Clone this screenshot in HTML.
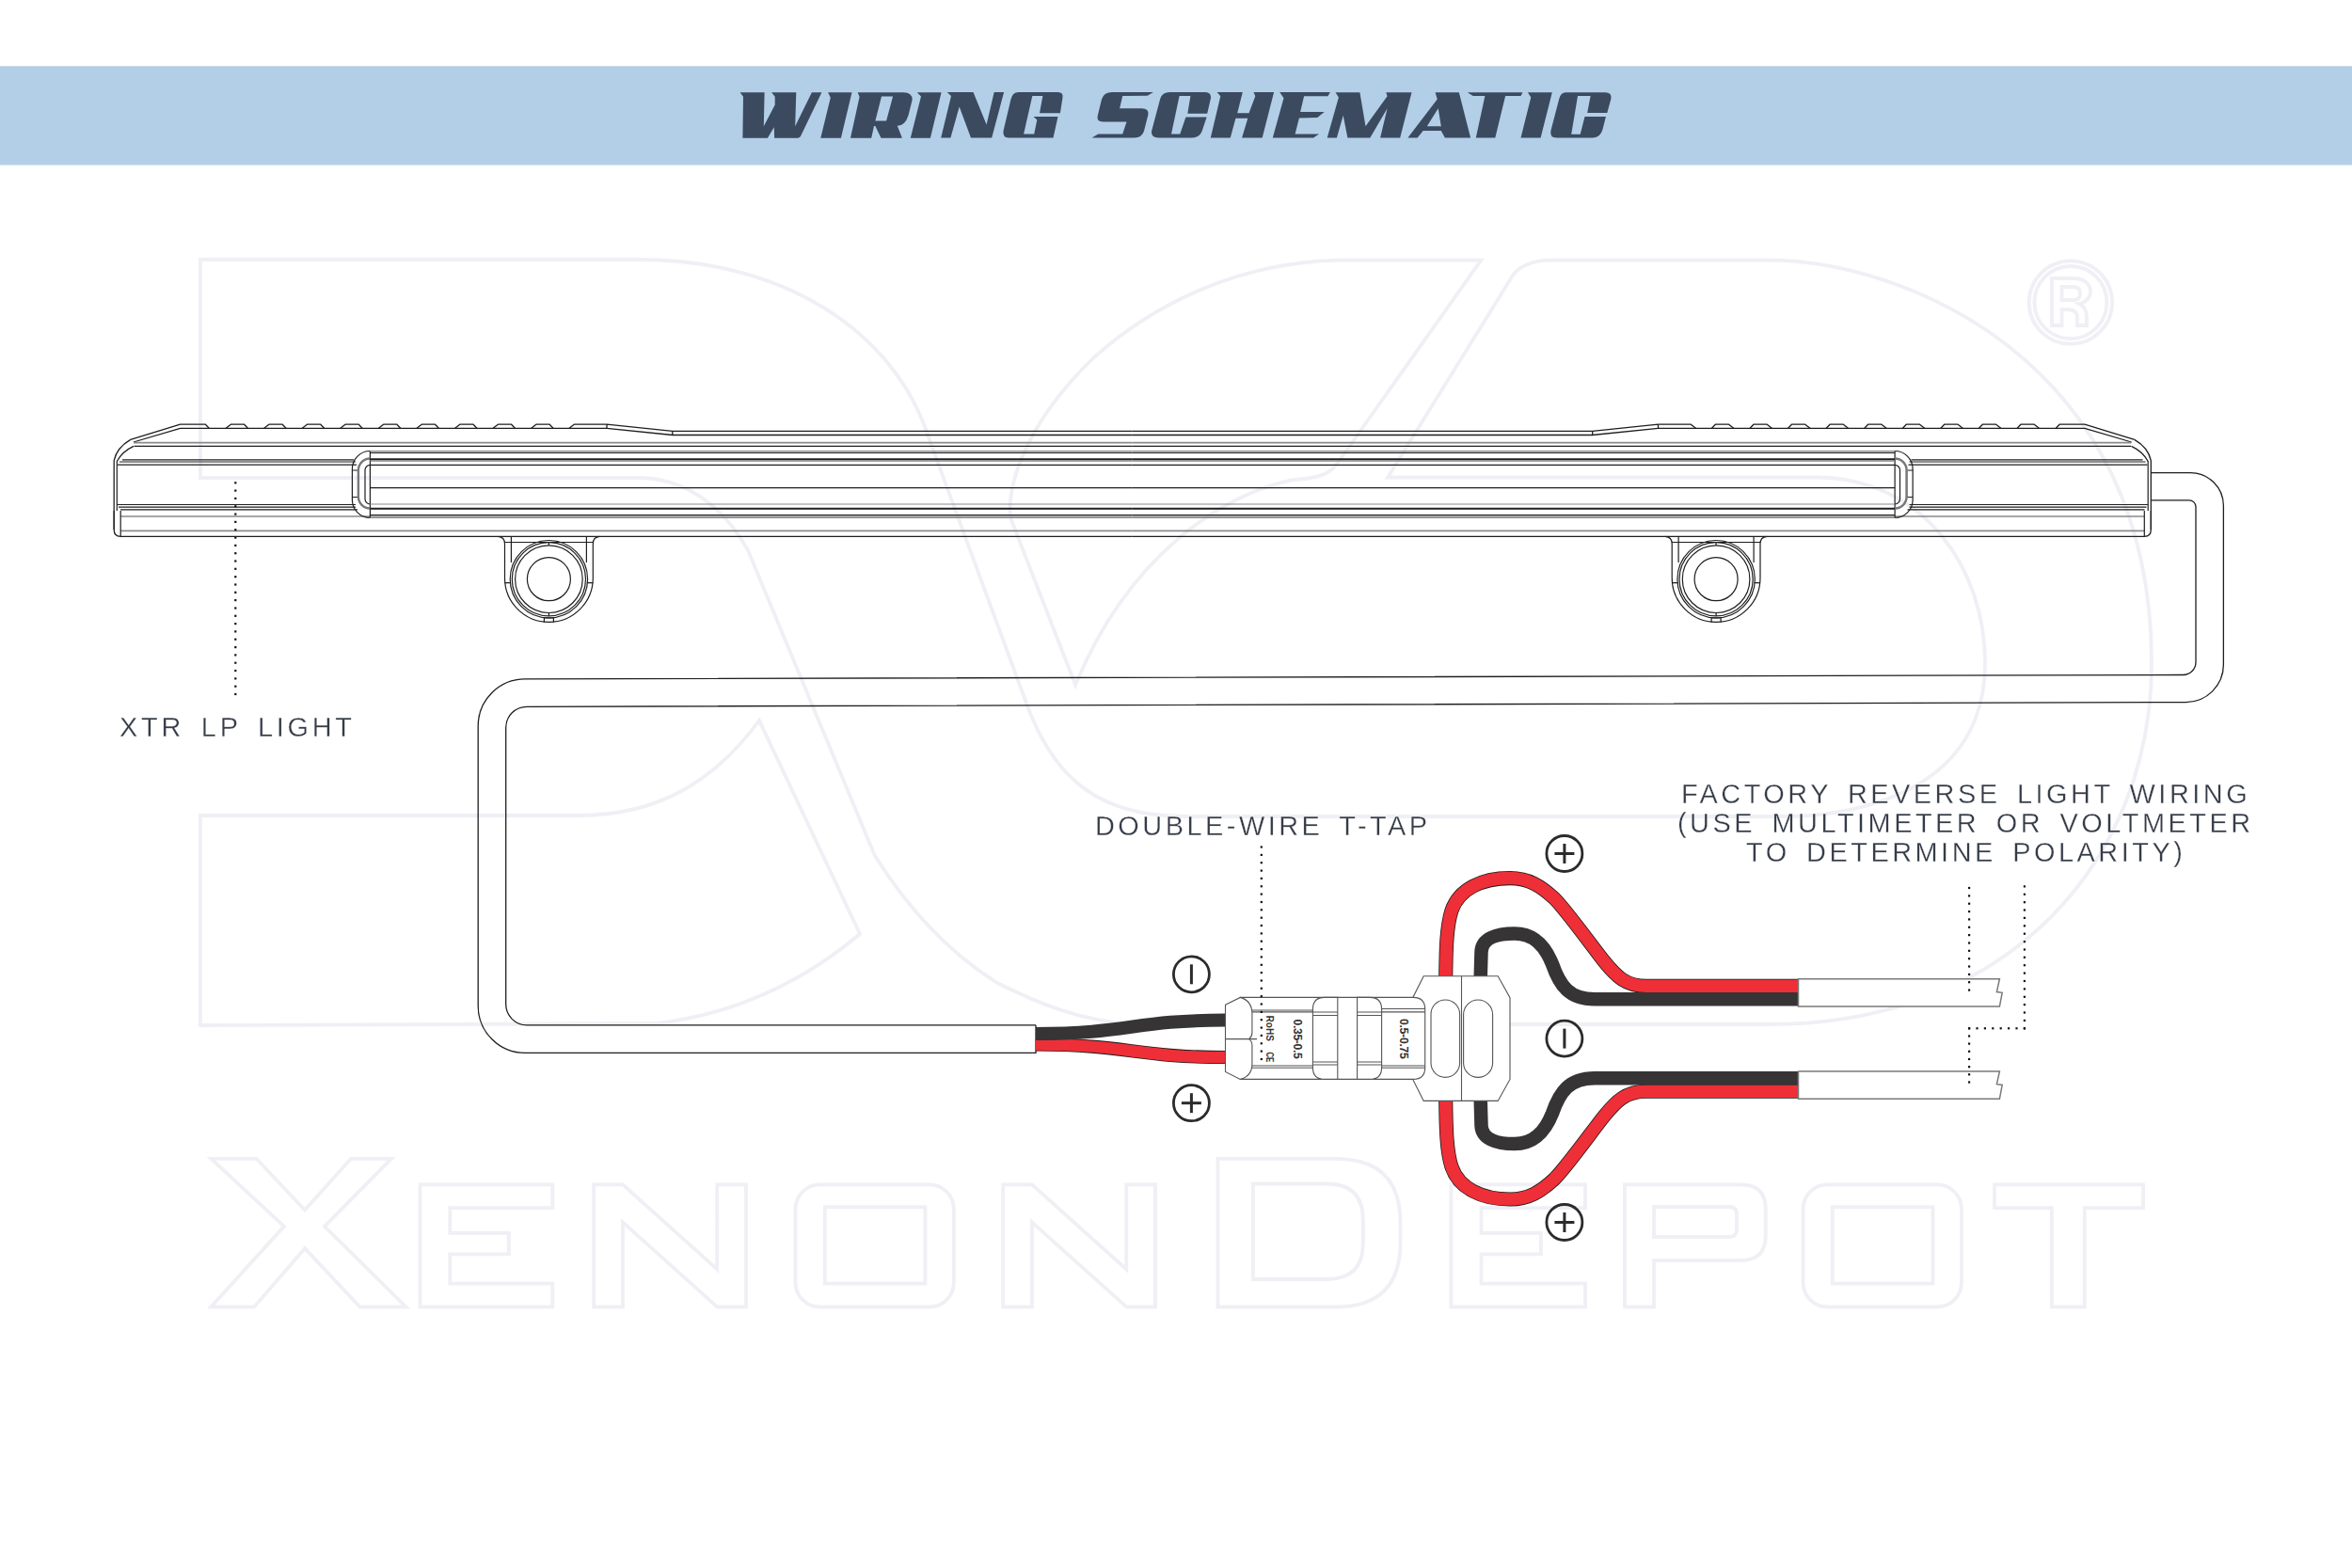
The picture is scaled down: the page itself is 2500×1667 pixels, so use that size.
<!DOCTYPE html>
<html><head><meta charset="utf-8"><title>Wiring Schematic</title>
<style>
html,body{margin:0;padding:0;background:#fff;}
body{width:2500px;height:1667px;overflow:hidden;position:relative;font-family:"Liberation Sans",sans-serif;}
svg{position:absolute;left:0;top:0;}
.lbl{position:absolute;will-change:transform;color:#353c48;-webkit-text-stroke:0.3px #fff;font-family:"Liberation Sans",sans-serif;white-space:pre;line-height:1;}
</style></head><body>
<svg width="2500" height="1667" viewBox="0 0 2500 1667">
<rect x="0" y="0" width="2500" height="1667" fill="#fff"/>

<g fill="none" stroke="#efeff5" stroke-width="3.8">
<path d="M224.3 1231.8 L272.5 1231.8 L324 1286.5 L373 1231.8 L416 1231.8 L345 1303.8 L431.5 1389.4 L382.4 1389.4 L324 1327.2 L270.2 1389.4 L224.3 1389.4 L302 1303.8 Z"/>
<path d="M446.5 1259.4 H587.3 V1284.2 H478.32079999999996 V1310.8000000000002 H540.836 V1333.3000000000002 H478.32079999999996 V1364.6000000000001 H587.3 V1389.4 H446.5 Z"/>
<path d="M631.2 1259.4 H661.942 L762.258 1349.4 V1259.4 H793 V1389.4 H762.258 L661.942 1299.4 V1389.4 H631.2 Z"/>
<path d="M1066.2 1259.4 H1096.942 L1197.258 1349.4 V1259.4 H1228 V1389.4 H1197.258 L1096.942 1299.4 V1389.4 H1066.2 Z"/>
<rect x="845.5" y="1259.4" width="168.29999999999995" height="130.0" rx="26"/><rect x="876.8" y="1283.3000000000002" width="106.60000000000002" height="81.29999999999995"/>
<rect x="1916.5" y="1259.4" width="168.4000000000001" height="130.0" rx="26"/><rect x="1947.8" y="1283.3000000000002" width="106.70000000000005" height="81.29999999999995"/>
<path d="M1294.4 1231.8 H1420 Q1488.5 1231.8 1488.5 1300 V1321 Q1488.5 1389.4 1420 1389.4 H1294.4 Z"/>
<path d="M1331.9 1258.5 H1410 Q1448.8 1258.5 1448.8 1297 V1322 Q1448.8 1360 1410 1360 H1331.9 Z"/>
<path d="M1542.3 1259.4 H1685 V1284.2 H1574.5502 V1310.8000000000002 H1637.909 V1333.3000000000002 H1574.5502 V1364.6000000000001 H1685 V1389.4 H1542.3 Z"/>
<path d="M1727 1259.4 H1850 Q1876.7 1259.4 1876.7 1285 V1314 Q1876.7 1340 1850 1340 H1758 V1389.4 H1727 Z"/>
<path d="M1758 1283 H1838 Q1846 1283 1846 1291 V1307 Q1846 1315 1838 1315 H1758 Z"/>
<path d="M2120 1259.4 H2278 V1284.2 H2215.8 V1389.4 H2180.8 V1284.2 H2120 Z"/>
<path d="M213 276 H680 C830 276 950 350 987 465 L1090 745 C1120 830 1170 868 1260 868 H1900 C1945 868.2 2110 855 2110 705 C2110 605 2045 507.5 1930 507.5 H1475 L1608.3 292.3 C1615 283 1630 276.7 1647.4 276.7 H1880 C2020 276.7 2287 380 2287 705 C2287 910 2140 1089 1880 1089 H1210 C1150 1087 1100 1065 1060 1045 C1005 1010 965 965 930 910 L795 585 C770 540 730 508 679 508 H213 Z"/>
<path d="M213 867 H615 C700 867 760 830 807 766 L914 993 C870 1030 800 1075 700 1088 L213 1090 Z"/>
<path d="M1143.1 728.2 L1074.8 552.5 C1068 520 1090 450 1162.7 380.1 C1230 320 1320 279 1422.9 276.7 H1574.2 L1422.9 490.7 C1415 503 1405 508 1374.1 510.2 C1300 525 1200 590 1143.1 728.2 Z"/>
<circle cx="2200.9" cy="321.5" r="44.2"/><circle cx="2200.9" cy="321.5" r="38.5"/>
<path d="M2181 296 H2205 C2216 296 2222 303 2222 309.5 C2222 317 2216 322 2210 323 C2216 326 2218 331 2218 337 V346 H2208 V338 C2208 332 2204 329 2198 329 H2191.5 V346 H2181 Z M2191.5 305 H2204 C2209 305 2211 308 2211 312 C2211 316 2209 319 2204 319 H2191.5 Z"/>
</g>
<rect x="0" y="70.3" width="2500" height="105.2" fill="#b2cfe7"/>
<g fill="#3b4a5f">
<path d="M786.6 98.3 L812.6 98.3 L811.8 134.2 L823.7 111.6 L823.7 102.7 L820.1 98.3 L846.3 98.3 L845.2 134.2 L862.9 98.3 L873.4 98.3 L850.8 145.3 L848.5 146.7 L823.1 146.7 L822.8 135.3 L815.9 146.7 L789.4 146.7 L790.0 102.7 Z" fill-rule="evenodd"/>
<path d="M880.1 98.3 L905.5 98.3 L893.9 146.7 L872.3 146.7 L882.8 103.8 Z" fill-rule="evenodd"/>
<path d="M974.8 98.2 L1000.6 98.2 L988.9 146.8 L967.8 146.8 L979.0 102.6 Z" fill-rule="evenodd"/>
<path d="M1006.7 98.0 L1034.5 98.0 L1048.6 132.5 L1056.7 98.0 L1067.1 98.0 L1054.2 146.4 L1032.0 146.4 L1019.7 113.4 L1010.4 146.4 L1000.2 146.4 L1011.0 102.0 Z" fill-rule="evenodd"/>
<path d="M1293.6 98.0 L1320.8 98.0 L1315.2 120.2 L1327.5 120.2 L1334.3 102.3 L1332.5 98.0 L1354.1 98.0 L1341.7 146.4 L1320.1 146.4 L1326.3 125.8 L1313.4 125.8 L1307.8 146.4 L1286.8 146.4 L1297.3 102.3 Z" fill-rule="evenodd"/>
<path d="M1360.2 98.0 L1413.9 98.0 L1411.4 102.3 L1386.1 102.3 L1382.1 119.0 L1407.7 119.0 L1400.3 125.1 L1380.9 125.4 L1376.6 142.4 L1402.1 142.4 L1396.0 146.4 L1352.8 146.4 L1364.5 104.2 Z" fill-rule="evenodd"/>
<path d="M1419.5 98.2 L1445.4 98.2 L1451.5 134.2 L1474.6 102.2 L1473.3 98.2 L1500.5 98.2 L1488.2 146.5 L1467.1 146.5 L1474.6 115.2 L1456.3 146.5 L1432.4 146.5 L1427.7 122.7 L1420.9 146.5 L1410.7 146.5 L1422.9 103.6 Z" fill-rule="evenodd"/>
<path d="M1559.7 98.2 L1618.5 98.2 L1616.5 101.9 L1600.1 101.9 L1589.3 146.5 L1568.8 146.5 L1578.4 101.9 L1565.8 101.9 Z" fill-rule="evenodd"/>
<path d="M1623.9 98.2 L1649.8 98.2 L1637.6 146.5 L1616.5 146.5 L1627.3 103.6 Z" fill-rule="evenodd"/>
<path d="M911.7 98.2 L960.3 98.2 Q969.7 98.2 969.7 106 L965.5 122.7 Q962 133.7 953.8 133.7 L958.9 146.8 L936.5 146.8 L930.4 134 L929 134 L926.2 146.8 L904 146.8 L913.6 103.1 Z M937 102.4 L949.1 102.4 L942.1 128.6 L930.4 128.6 Z" fill-rule="evenodd"/>
<path d="M1082.5 98 L1124.5 98 Q1130.5 98 1129.4 104.2 L1126.9 120.2 L1105 120.2 L1108.4 102 L1097.3 102 L1088.1 142.4 L1099.2 142.4 L1102.3 127.6 L1098.6 123.9 L1124.5 123.9 L1119.5 146.4 L1072.1 146.4 Q1065.5 146.4 1066.5 139.3 L1074.5 105.4 Q1076.5 98 1082.5 98 Z" fill-rule="evenodd"/>
<path d="M1182.1 98 L1225.9 98 L1219.7 101.7 L1193.2 102 L1190.1 115.3 L1213.6 115.3 Q1221.5 115.3 1220.4 122.1 L1216 139.3 Q1214 146.4 1205.6 146.4 L1160.5 146.4 L1167.3 142.4 L1193.2 142.4 L1197.5 129.5 L1172.3 129.5 Q1165.5 129.5 1166.7 123.3 L1171 105.4 Q1173.5 98 1182.1 98 Z" fill-rule="evenodd"/>
<path d="M1243.2 98 L1280.2 98 Q1288 98 1286.9 104.8 L1283.2 120.8 L1262.3 120.8 L1265.4 102 L1253.6 102 L1245 142.4 L1254.3 142.4 L1260.4 124.5 L1282.6 124.5 L1277.7 139.3 Q1275 146.4 1266.6 146.4 L1231.5 146.4 Q1223 146.4 1224.1 139.3 L1233.3 104.8 Q1235.5 98 1243.2 98 Z" fill-rule="evenodd"/>
<path d="M1525.6 98.2 L1550.8 98.2 L1563.1 146.5 L1535.9 146.5 L1531.8 139 L1512.7 139 L1506.6 146.5 L1496.4 146.5 L1527.7 105.6 Z M1528.7 115.2 L1531.8 134.2 L1516.8 134.2 Z" fill-rule="evenodd"/>
<path d="M1664.1 98.2 L1706.3 98.2 Q1713.5 98.2 1712.4 105 L1708.3 119.9 L1687.2 119.9 L1690.6 101.9 L1677 101.9 L1670.2 142.7 L1679.7 142.7 L1684.5 124 L1706.9 124 L1703.5 137.6 Q1701 146.5 1693.3 146.5 L1654.6 146.5 Q1647 146.5 1648.4 139 L1657.3 105 Q1659 98.2 1664.1 98.2 Z" fill-rule="evenodd"/>
</g>
<g id="lbL"><g fill="none" stroke="#1e1e1e" stroke-width="1.3" stroke-linejoin="round">
<path d="M138.7 467.4 L191.6 451.2 H218.4 L222.2 455.3"/>
<path d="M141.9 470 L191.6 455.3 H645 L714.8 462.5 H1203.75"/>
<path d="M645 451.2 L714.8 458.3 H1203.75 M645 451.2 V455.3 M714.8 458.3 V462.5"/>
<path d="M240.1 455.3 L245.3 451.2 H259.6 L263.4 455.3"/>
<path d="M280.7 455.3 L285.9 451.2 H300.2 L304.0 455.3"/>
<path d="M321.2 455.3 L326.4 451.2 H340.8 L344.6 455.3"/>
<path d="M361.8 455.3 L367.0 451.2 H381.3 L385.1 455.3"/>
<path d="M402.4 455.3 L407.6 451.2 H421.9 L425.7 455.3"/>
<path d="M443.0 455.3 L448.2 451.2 H462.5 L466.3 455.3"/>
<path d="M483.6 455.3 L488.8 451.2 H503.1 L506.9 455.3"/>
<path d="M524.1 455.3 L529.3 451.2 H543.6 L547.4 455.3"/>
<path d="M564.7 455.3 L569.9 451.2 H584.2 L588.0 455.3"/>
<path d="M605 455.3 L610.2 451.2 H645"/>
<path d="M138.7 467.4 Q124 476 121.2 489.7 V563 Q121.2 570.4 128.2 570.4 H1203.75"/>
<path d="M142 474.4 Q130 480 124.3 490.5"/>
</g>
<g fill="none" stroke="#8a8a8a" stroke-width="1.6">
<path d="M142 470.6 H1203.75 M128.2 549 H1203.75 M128.2 564.4 H1203.75"/>
</g>
<g fill="none" stroke="#1e1e1e" stroke-width="1.2">
<path d="M142.5 474.4 H1203.75"/>
<path d="M130 488.9 H376 M127 491 H378 M125 494.2 H379"/>
<path d="M124.3 536.5 H378 M126 539.2 H378 M128 541.8 H380"/>
<path d="M124.3 490 V543 M121.2 543 V563 M128.2 543 V570"/>
<path d="M393.4 479.5 A19 19 0 0 0 374.4 498.5 V531.5 A19 19 0 0 0 393.4 550.5"/>
<path d="M393.4 494.4 A5.4 5.4 0 0 0 388 499.8 V530.6 A5.4 5.4 0 0 0 393.4 536"/>
<path d="M374.4 500 H381 M374.4 528.5 H381 M381 500 V528.5"/>
<path d="M393.4 479.5 V550.5"/>
</g>
<path d="M393.4 487.5 A12.5 12.5 0 0 0 380.9 500 V528 A12.5 12.5 0 0 0 393.4 540.5" stroke="#777" stroke-width="2.4" fill="none"/>
<g fill="none" stroke="#1e1e1e" stroke-width="1.2">
<path d="M393.4 481.4 H1203.75 M393.4 494.4 H1203.75 M393.4 518.6 H1203.75 M393.4 547.5 H1203.75"/>
</g>
<g fill="none" stroke="#8a8a8a" stroke-width="1.2"><path d="M393.4 479.5 H1203.75 M393.4 490.2 H1203.75 M393.4 536 H1203.75 M393.4 550.5 H1203.75"/></g>
<g fill="none" stroke="#1e1e1e" stroke-width="2"><path d="M393.4 488.3 H1203.75 M393.4 540.7 H1203.75"/></g>
<g fill="none" stroke="#1e1e1e" stroke-width="1.2">
<path d="M529.4 570.4 Q536.4 571 536.5 578 V614.5 A46.9 46.9 0 0 0 630.3 614.5 V578 Q630.4 571 637.4 570.4"/>
<path d="M536.5 576.5 H630.3 M543.4 570.4 V598 M623.4 570.4 V598"/>
<path d="M536.5 619.7 H542.9 M630.3 619.7 H623.9"/>
<circle cx="583.4" cy="615.7" r="41.2"/>
<circle cx="583.4" cy="615.7" r="39.1"/>
<circle cx="583.4" cy="615.7" r="35.8"/>
<circle cx="583.4" cy="615.7" r="23"/>
<path d="M583.4 576.5 V580 M583.4 651.5 V655 M578.4 656.5 V661.4 M588.4 656.5 V661.4 M578.4 657 H588.4"/>
</g></g>
<g transform="translate(2407.5 0) scale(-1 1)"><g fill="none" stroke="#1e1e1e" stroke-width="1.3" stroke-linejoin="round">
<path d="M138.7 467.4 L191.6 451.2 H218.4 L222.2 455.3"/>
<path d="M141.9 470 L191.6 455.3 H645 L714.8 462.5 H1203.75"/>
<path d="M645 451.2 L714.8 458.3 H1203.75 M645 451.2 V455.3 M714.8 458.3 V462.5"/>
<path d="M240.1 455.3 L245.3 451.2 H259.6 L263.4 455.3"/>
<path d="M280.7 455.3 L285.9 451.2 H300.2 L304.0 455.3"/>
<path d="M321.2 455.3 L326.4 451.2 H340.8 L344.6 455.3"/>
<path d="M361.8 455.3 L367.0 451.2 H381.3 L385.1 455.3"/>
<path d="M402.4 455.3 L407.6 451.2 H421.9 L425.7 455.3"/>
<path d="M443.0 455.3 L448.2 451.2 H462.5 L466.3 455.3"/>
<path d="M483.6 455.3 L488.8 451.2 H503.1 L506.9 455.3"/>
<path d="M524.1 455.3 L529.3 451.2 H543.6 L547.4 455.3"/>
<path d="M564.7 455.3 L569.9 451.2 H584.2 L588.0 455.3"/>
<path d="M605 455.3 L610.2 451.2 H645"/>
<path d="M138.7 467.4 Q124 476 121.2 489.7 V563 Q121.2 570.4 128.2 570.4 H1203.75"/>
<path d="M142 474.4 Q130 480 124.3 490.5"/>
</g>
<g fill="none" stroke="#8a8a8a" stroke-width="1.6">
<path d="M142 470.6 H1203.75 M128.2 549 H1203.75 M128.2 564.4 H1203.75"/>
</g>
<g fill="none" stroke="#1e1e1e" stroke-width="1.2">
<path d="M142.5 474.4 H1203.75"/>
<path d="M130 488.9 H376 M127 491 H378 M125 494.2 H379"/>
<path d="M124.3 536.5 H378 M126 539.2 H378 M128 541.8 H380"/>
<path d="M124.3 490 V543 M121.2 543 V563 M128.2 543 V570"/>
<path d="M393.4 479.5 A19 19 0 0 0 374.4 498.5 V531.5 A19 19 0 0 0 393.4 550.5"/>
<path d="M393.4 494.4 A5.4 5.4 0 0 0 388 499.8 V530.6 A5.4 5.4 0 0 0 393.4 536"/>
<path d="M374.4 500 H381 M374.4 528.5 H381 M381 500 V528.5"/>
<path d="M393.4 479.5 V550.5"/>
</g>
<path d="M393.4 487.5 A12.5 12.5 0 0 0 380.9 500 V528 A12.5 12.5 0 0 0 393.4 540.5" stroke="#777" stroke-width="2.4" fill="none"/>
<g fill="none" stroke="#1e1e1e" stroke-width="1.2">
<path d="M393.4 481.4 H1203.75 M393.4 494.4 H1203.75 M393.4 518.6 H1203.75 M393.4 547.5 H1203.75"/>
</g>
<g fill="none" stroke="#8a8a8a" stroke-width="1.2"><path d="M393.4 479.5 H1203.75 M393.4 490.2 H1203.75 M393.4 536 H1203.75 M393.4 550.5 H1203.75"/></g>
<g fill="none" stroke="#1e1e1e" stroke-width="2"><path d="M393.4 488.3 H1203.75 M393.4 540.7 H1203.75"/></g>
<g fill="none" stroke="#1e1e1e" stroke-width="1.2">
<path d="M529.4 570.4 Q536.4 571 536.5 578 V614.5 A46.9 46.9 0 0 0 630.3 614.5 V578 Q630.4 571 637.4 570.4"/>
<path d="M536.5 576.5 H630.3 M543.4 570.4 V598 M623.4 570.4 V598"/>
<path d="M536.5 619.7 H542.9 M630.3 619.7 H623.9"/>
<circle cx="583.4" cy="615.7" r="41.2"/>
<circle cx="583.4" cy="615.7" r="39.1"/>
<circle cx="583.4" cy="615.7" r="35.8"/>
<circle cx="583.4" cy="615.7" r="23"/>
<path d="M583.4 576.5 V580 M583.4 651.5 V655 M578.4 656.5 V661.4 M588.4 656.5 V661.4 M578.4 657 H588.4"/>
</g></g>
<g fill="none" stroke="#1e1e1e" stroke-width="1.3">
<path d="M2286 502.7 H2328 A35 35 0 0 1 2363.4 537.7 V706.6 A40 40 0 0 1 2323.4 746.6 L560 751.3 A22.3 22.3 0 0 0 537.7 773.6 V1067.6 A22.3 22.3 0 0 0 560 1089.9 H1101"/>
<path d="M2286 531.8 H2327 A7 7 0 0 1 2334 538.8 V704 A13.5 13.5 0 0 1 2320.5 717.5 L558.2 721.9 A50 50 0 0 0 508.2 771.9 V1069.4 A50 50 0 0 0 558.2 1119.4 H1101 V1089.9"/>
</g>
<path d="M1101 1110.5 C1200 1110.5 1205 1124 1303 1124" fill="none" stroke="#1a1a1a" stroke-width="14.1" stroke-linecap="butt"/><path d="M1101 1110.5 C1200 1110.5 1205 1124 1303 1124" fill="none" stroke="#ee2f37" stroke-width="12.5" stroke-linecap="butt"/>
<path d="M1101 1099 C1200 1099 1205 1084.6 1303 1084.6" fill="none" stroke="#363435" stroke-width="14" stroke-linecap="butt"/>
<path d="M1536.7 1040 C1537 1010 1537.5 985 1543 968 C1551 945 1575 933.6 1605 933.6 C1625 933.6 1638 942 1652 955 C1665 968 1690 1003 1705 1022 C1718 1038 1728 1048.35 1750 1048.35 L1912 1048.35" fill="none" stroke="#1a1a1a" stroke-width="15.1" stroke-linecap="butt"/><path d="M1536.7 1040 C1537 1010 1537.5 985 1543 968 C1551 945 1575 933.6 1605 933.6 C1625 933.6 1638 942 1652 955 C1665 968 1690 1003 1705 1022 C1718 1038 1728 1048.35 1750 1048.35 L1912 1048.35" fill="none" stroke="#ee2f37" stroke-width="13.5" stroke-linecap="butt"/>
<path d="M1573.7 1040 L1574.5 1012 C1575 998 1590 992.5 1610 992.5 C1630 992.5 1642 1005 1650 1025 C1658 1048 1668 1062.35 1695 1062.35 L1912 1062.35" fill="none" stroke="#363435" stroke-width="14.5" stroke-linecap="butt"/>
<g transform="translate(0 2208.6) scale(1 -1)"><path d="M1536.7 1040 C1537 1010 1537.5 985 1543 968 C1551 945 1575 933.6 1605 933.6 C1625 933.6 1638 942 1652 955 C1665 968 1690 1003 1705 1022 C1718 1038 1728 1048.35 1750 1048.35 L1912 1048.35" fill="none" stroke="#1a1a1a" stroke-width="15.1" stroke-linecap="butt"/><path d="M1536.7 1040 C1537 1010 1537.5 985 1543 968 C1551 945 1575 933.6 1605 933.6 C1625 933.6 1638 942 1652 955 C1665 968 1690 1003 1705 1022 C1718 1038 1728 1048.35 1750 1048.35 L1912 1048.35" fill="none" stroke="#ee2f37" stroke-width="13.5" stroke-linecap="butt"/><path d="M1573.7 1040 L1574.5 1012 C1575 998 1590 992.5 1610 992.5 C1630 992.5 1642 1005 1650 1025 C1658 1048 1668 1062.35 1695 1062.35 L1912 1062.35" fill="none" stroke="#363435" stroke-width="14.5" stroke-linecap="butt"/></g>
<path d="M1911.5 1040.7 H2125.4 L2122.4 1054.5 L2128.2 1055.3 L2125.4 1070.1000000000001 H1911.5 Z" fill="#fff" stroke="#7a7a7a" stroke-width="1.5"/>
<path d="M1911.5 1138.9 H2125.4 L2122.4 1152.7 L2128.2 1153.5 L2125.4 1168.3000000000002 H1911.5 Z" fill="#fff" stroke="#7a7a7a" stroke-width="1.5"/>
<g fill="#fff" stroke="#555" stroke-width="1.1">
<path d="M1513.2 1037.8 H1592.2 L1605 1060.7 V1147.4 L1592.2 1170.4 H1513.2 L1501.7 1147.4 V1060.7 Z"/>
<path d="M1553.5 1037.8 V1170.4" fill="none"/>
<rect x="1521" y="1063" width="30.6" height="82.4" rx="15.3"/>
<rect x="1555.6" y="1063" width="31" height="82.4" rx="15.5"/>
<path d="M1318.3 1060.4 H1502 Q1514.7 1060.4 1514.7 1073 V1135 Q1514.7 1147.4 1502 1147.4 H1318.3 Z"/>
<path d="M1395.4 1073 Q1395.4 1060.4 1408 1060.4 H1421.8 V1147.4 H1408 Q1395.4 1147.4 1395.4 1135 Z"/>
<path d="M1442.6 1060.4 H1456 Q1468.6 1060.4 1468.6 1073 V1135 Q1468.6 1147.4 1456 1147.4 H1442.6 Z"/>
<path d="M1331 1074 H1395.4 M1331 1075.9 H1395.4 M1331 1133 H1395.4 M1331 1135.2 H1395.4 M1468.6 1072.5 H1514.7 M1468.6 1075.9 H1514.7 M1468.6 1133 H1514.7 M1468.6 1135.2 H1514.7" fill="none"/>
<path d="M1396 1076 H1421.8 M1396 1079.5 H1421.8 M1396 1129 H1421.8 M1396 1132 H1421.8 M1442.6 1076 H1468 M1442.6 1079.5 H1468 M1442.6 1129 H1468 M1442.6 1132 H1468" fill="none"/>
<path d="M1302.5 1068.3 L1318.3 1060.4 Q1330.9 1064 1330.9 1078 V1098 Q1330.9 1102 1327.6 1104.6 Q1330.9 1107 1330.9 1111.2 V1131 Q1330.9 1144 1318.3 1147.4 L1302.5 1139.5 Z"/>
<path d="M1302.5 1104.6 H1336" fill="none"/>
</g>
<g fill="#333" font-family="Liberation Sans, sans-serif" font-size="9.5">
<text transform="translate(1375.3 1083.5) rotate(90)" font-size="12" font-weight="bold" letter-spacing="-0.3" textLength="42" lengthAdjust="spacingAndGlyphs">0.35-0.5</text>
<text transform="translate(1487.5 1083) rotate(90)" font-size="12" font-weight="bold" letter-spacing="-0.3" textLength="42.5" lengthAdjust="spacingAndGlyphs">0.5-0.75</text>
<text transform="translate(1346 1079.5) rotate(90)" font-size="10.5" font-weight="bold" textLength="27.5" lengthAdjust="spacingAndGlyphs">RoHS</text>
<text transform="translate(1346 1118.4) rotate(90)" font-size="10.5" font-weight="bold" textLength="11" lengthAdjust="spacingAndGlyphs">CE</text>
</g>
<circle cx="1266.4" cy="1035.8" r="19" fill="none" stroke="#2b2b2b" stroke-width="2.8"/><path d="M1266.4 1025.3 V1046.3" stroke="#2b2b2b" stroke-width="3"/>
<circle cx="1266.4" cy="1172.7" r="19" fill="none" stroke="#2b2b2b" stroke-width="2.8"/><path d="M1266.4 1162.2 V1183.2" stroke="#2b2b2b" stroke-width="3"/><path d="M1255.9 1172.7 H1276.9" stroke="#2b2b2b" stroke-width="3"/>
<circle cx="1662.9" cy="907.5" r="19" fill="none" stroke="#2b2b2b" stroke-width="2.8"/><path d="M1662.9 897.0 V918.0" stroke="#2b2b2b" stroke-width="3"/><path d="M1652.4 907.5 H1673.4" stroke="#2b2b2b" stroke-width="3"/>
<circle cx="1662.9" cy="1104.1" r="19" fill="none" stroke="#2b2b2b" stroke-width="2.8"/><path d="M1662.9 1093.6 V1114.6" stroke="#2b2b2b" stroke-width="3"/>
<circle cx="1662.9" cy="1299.5" r="19" fill="none" stroke="#2b2b2b" stroke-width="2.8"/><path d="M1662.9 1289.0 V1310.0" stroke="#2b2b2b" stroke-width="3"/><path d="M1652.4 1299.5 H1673.4" stroke="#2b2b2b" stroke-width="3"/>
<g fill="#111">
<rect x="249.2" y="512.2" width="2.2" height="2.2"/><rect x="249.2" y="520.5" width="2.2" height="2.2"/><rect x="249.2" y="528.8" width="2.2" height="2.2"/><rect x="249.2" y="537.2" width="2.2" height="2.2"/><rect x="249.2" y="545.5" width="2.2" height="2.2"/><rect x="249.2" y="553.8" width="2.2" height="2.2"/><rect x="249.2" y="562.1" width="2.2" height="2.2"/><rect x="249.2" y="570.5" width="2.2" height="2.2"/><rect x="249.2" y="578.8" width="2.2" height="2.2"/><rect x="249.2" y="587.1" width="2.2" height="2.2"/><rect x="249.2" y="595.4" width="2.2" height="2.2"/><rect x="249.2" y="603.7" width="2.2" height="2.2"/><rect x="249.2" y="612.1" width="2.2" height="2.2"/><rect x="249.2" y="620.4" width="2.2" height="2.2"/><rect x="249.2" y="628.7" width="2.2" height="2.2"/><rect x="249.2" y="637.0" width="2.2" height="2.2"/><rect x="249.2" y="645.4" width="2.2" height="2.2"/><rect x="249.2" y="653.7" width="2.2" height="2.2"/><rect x="249.2" y="662.0" width="2.2" height="2.2"/><rect x="249.2" y="670.3" width="2.2" height="2.2"/><rect x="249.2" y="678.6" width="2.2" height="2.2"/><rect x="249.2" y="687.0" width="2.2" height="2.2"/><rect x="249.2" y="695.3" width="2.2" height="2.2"/><rect x="249.2" y="703.6" width="2.2" height="2.2"/><rect x="249.2" y="711.9" width="2.2" height="2.2"/><rect x="249.2" y="720.3" width="2.2" height="2.2"/><rect x="249.2" y="728.6" width="2.2" height="2.2"/><rect x="249.2" y="736.9" width="2.2" height="2.2"/>
<rect x="1339.7" y="899.4" width="2.2" height="2.2"/><rect x="1339.7" y="907.8" width="2.2" height="2.2"/><rect x="1339.7" y="916.1" width="2.2" height="2.2"/><rect x="1339.7" y="924.5" width="2.2" height="2.2"/><rect x="1339.7" y="932.8" width="2.2" height="2.2"/><rect x="1339.7" y="941.2" width="2.2" height="2.2"/><rect x="1339.7" y="949.5" width="2.2" height="2.2"/><rect x="1339.7" y="957.9" width="2.2" height="2.2"/><rect x="1339.7" y="966.2" width="2.2" height="2.2"/><rect x="1339.7" y="974.6" width="2.2" height="2.2"/><rect x="1339.7" y="982.9" width="2.2" height="2.2"/><rect x="1339.7" y="991.3" width="2.2" height="2.2"/><rect x="1339.7" y="999.6" width="2.2" height="2.2"/><rect x="1339.7" y="1008.0" width="2.2" height="2.2"/><rect x="1339.7" y="1016.3" width="2.2" height="2.2"/><rect x="1339.7" y="1024.7" width="2.2" height="2.2"/><rect x="1339.7" y="1033.0" width="2.2" height="2.2"/><rect x="1339.7" y="1041.4" width="2.2" height="2.2"/><rect x="1339.7" y="1049.7" width="2.2" height="2.2"/><rect x="1339.7" y="1058.1" width="2.2" height="2.2"/><rect x="1339.7" y="1066.4" width="2.2" height="2.2"/><rect x="1339.7" y="1074.8" width="2.2" height="2.2"/><rect x="1339.7" y="1083.1" width="2.2" height="2.2"/><rect x="1339.7" y="1091.5" width="2.2" height="2.2"/><rect x="1339.7" y="1099.8" width="2.2" height="2.2"/><rect x="1339.7" y="1108.2" width="2.2" height="2.2"/><rect x="1339.7" y="1116.5" width="2.2" height="2.2"/><rect x="1339.7" y="1124.9" width="2.2" height="2.2"/>
<rect x="2092.0" y="942.9" width="2.2" height="2.2"/><rect x="2092.0" y="951.3" width="2.2" height="2.2"/><rect x="2092.0" y="959.6" width="2.2" height="2.2"/><rect x="2092.0" y="968.0" width="2.2" height="2.2"/><rect x="2092.0" y="976.3" width="2.2" height="2.2"/><rect x="2092.0" y="984.7" width="2.2" height="2.2"/><rect x="2092.0" y="993.0" width="2.2" height="2.2"/><rect x="2092.0" y="1001.4" width="2.2" height="2.2"/><rect x="2092.0" y="1009.7" width="2.2" height="2.2"/><rect x="2092.0" y="1018.1" width="2.2" height="2.2"/><rect x="2092.0" y="1026.4" width="2.2" height="2.2"/><rect x="2092.0" y="1034.8" width="2.2" height="2.2"/><rect x="2092.0" y="1043.1" width="2.2" height="2.2"/><rect x="2092.0" y="1051.5" width="2.2" height="2.2"/>
<rect x="2150.8" y="941.3" width="2.2" height="2.2"/><rect x="2150.8" y="949.7" width="2.2" height="2.2"/><rect x="2150.8" y="958.1" width="2.2" height="2.2"/><rect x="2150.8" y="966.4" width="2.2" height="2.2"/><rect x="2150.8" y="974.8" width="2.2" height="2.2"/><rect x="2150.8" y="983.2" width="2.2" height="2.2"/><rect x="2150.8" y="991.6" width="2.2" height="2.2"/><rect x="2150.8" y="1000.0" width="2.2" height="2.2"/><rect x="2150.8" y="1008.4" width="2.2" height="2.2"/><rect x="2150.8" y="1016.7" width="2.2" height="2.2"/><rect x="2150.8" y="1025.1" width="2.2" height="2.2"/><rect x="2150.8" y="1033.5" width="2.2" height="2.2"/><rect x="2150.8" y="1041.9" width="2.2" height="2.2"/><rect x="2150.8" y="1050.3" width="2.2" height="2.2"/><rect x="2150.8" y="1058.7" width="2.2" height="2.2"/><rect x="2150.8" y="1067.0" width="2.2" height="2.2"/><rect x="2150.8" y="1075.4" width="2.2" height="2.2"/><rect x="2150.8" y="1083.8" width="2.2" height="2.2"/><rect x="2150.8" y="1092.2" width="2.2" height="2.2"/>
<rect x="2150.8" y="1092.2" width="2.2" height="2.2"/><rect x="2142.4" y="1092.2" width="2.2" height="2.2"/><rect x="2134.0" y="1092.2" width="2.2" height="2.2"/><rect x="2125.6" y="1092.2" width="2.2" height="2.2"/><rect x="2117.2" y="1092.2" width="2.2" height="2.2"/><rect x="2108.8" y="1092.2" width="2.2" height="2.2"/><rect x="2100.4" y="1092.2" width="2.2" height="2.2"/><rect x="2092.0" y="1092.2" width="2.2" height="2.2"/>
<rect x="2092.0" y="1092.2" width="2.2" height="2.2"/><rect x="2092.0" y="1100.4" width="2.2" height="2.2"/><rect x="2092.0" y="1108.5" width="2.2" height="2.2"/><rect x="2092.0" y="1116.7" width="2.2" height="2.2"/><rect x="2092.0" y="1124.9" width="2.2" height="2.2"/><rect x="2092.0" y="1133.1" width="2.2" height="2.2"/><rect x="2092.0" y="1141.2" width="2.2" height="2.2"/><rect x="2092.0" y="1149.4" width="2.2" height="2.2"/>
</g>
</svg>
<div class="lbl" style="left:126.8px;top:759.2px;font-size:28.9px;letter-spacing:3.75px;word-spacing:6px;">XTR LP LIGHT</div>
<div class="lbl" style="left:1164px;top:863.9px;font-size:28.9px;letter-spacing:3.5px;word-spacing:6px;">DOUBLE-WIRE T-TAP</div>
<div class="lbl" style="left:1786.9px;top:830px;font-size:28.9px;letter-spacing:3.5px;word-spacing:6px;">FACTORY REVERSE LIGHT WIRING</div>
<div class="lbl" style="left:1783.2px;top:861px;font-size:28.9px;letter-spacing:3.5px;word-spacing:6px;">(USE MULTIMETER OR VOLTMETER</div>
<div class="lbl" style="left:1856px;top:892px;font-size:28.9px;letter-spacing:3.5px;word-spacing:6px;">TO DETERMINE POLARITY)</div>
</body></html>
